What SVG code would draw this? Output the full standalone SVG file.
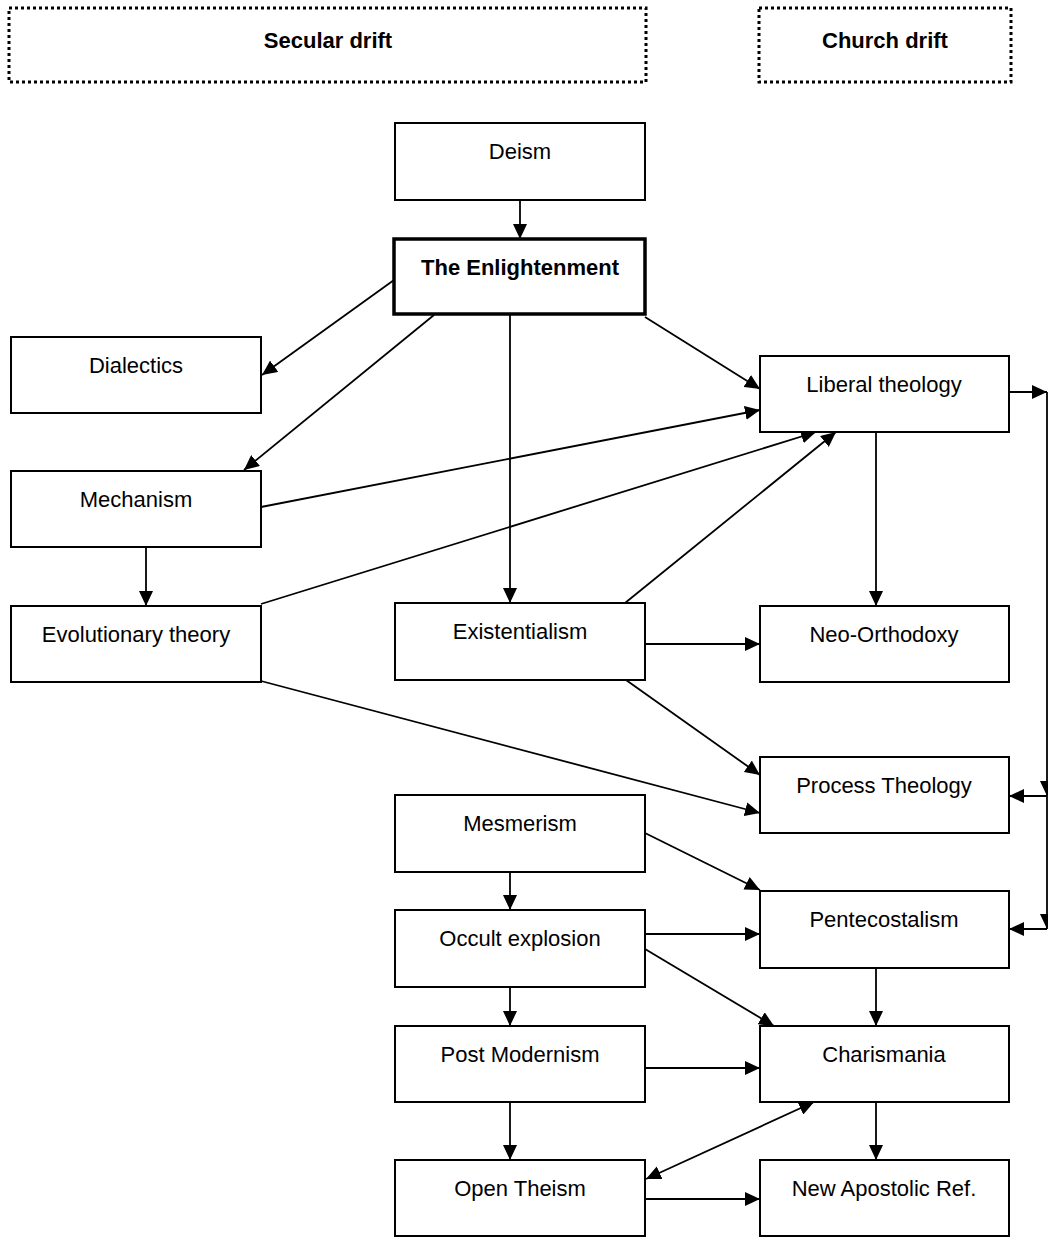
<svg xmlns="http://www.w3.org/2000/svg" width="1048" height="1237" viewBox="0 0 1048 1237">
<style>
  .box { fill: #fff; stroke: #000; stroke-width: 2; }
  .bold { stroke-width: 3.5; }
  .hdr { fill: none; stroke: #000; stroke-width: 3; stroke-dasharray: 3 3; }
  .t { font-family: "Liberation Sans", Arial, sans-serif; font-size: 22px; fill: #000; text-anchor: middle; }
  .tb { font-family: "Liberation Sans", Arial, sans-serif; font-size: 22px; font-weight: bold; fill: #000; text-anchor: middle; }
  .c { fill: none; stroke: #000; stroke-width: 1.8; marker-end: url(#ah); }
</style>
<defs>
  <marker id="ah" markerUnits="userSpaceOnUse" markerWidth="15" markerHeight="14" viewBox="0 0 15 14" refX="15" refY="7" orient="auto-start-reverse">
    <path d="M0,0 L15,7 L0,14 z" fill="#000"/>
  </marker>
</defs>
<rect width="1048" height="1237" fill="#fff"/>

<g id="secular-drift">
  <rect class="hdr" x="9" y="8" width="637" height="74"/>
  <text class="tb" x="328" y="48">Secular drift</text>
</g>
<g id="church-drift">
  <rect class="hdr" x="759" y="8" width="252" height="74"/>
  <text class="tb" x="885" y="48">Church drift</text>
</g>

<g id="connectors">
  <line class="c" x1="520" y1="200" x2="520" y2="239"/>
  <line class="c" x1="394" y1="280" x2="262" y2="375"/>
  <line class="c" x1="434" y1="315" x2="244" y2="470"/>
  <line class="c" x1="510" y1="315" x2="510" y2="603"/>
  <line class="c" x1="645" y1="317" x2="760" y2="389"/>
  <line class="c" x1="261" y1="507" x2="760" y2="410"/>
  <line class="c" x1="261" y1="604" x2="816" y2="432"/>
  <line class="c" x1="625" y1="603" x2="836" y2="432"/>
  <line class="c" x1="146" y1="547" x2="146" y2="606"/>
  <line class="c" x1="876" y1="432" x2="876" y2="606"/>
  <line class="c" x1="645" y1="644" x2="760" y2="644"/>
  <line class="c" x1="626" y1="680" x2="760" y2="775"/>
  <line class="c" x1="261" y1="681" x2="760" y2="813"/>
  <line class="c" x1="645" y1="833" x2="760" y2="890"/>
  <line class="c" x1="510" y1="872" x2="510" y2="910"/>
  <line class="c" x1="645" y1="934" x2="760" y2="934"/>
  <line class="c" x1="645" y1="949" x2="774" y2="1026"/>
  <line class="c" x1="876" y1="968" x2="876" y2="1026"/>
  <line class="c" x1="510" y1="987" x2="510" y2="1026"/>
  <line class="c" x1="645" y1="1068" x2="760" y2="1068"/>
  <line class="c" x1="510" y1="1102" x2="510" y2="1160"/>
  <line class="c" x1="814" y1="1102" x2="646" y2="1179" marker-start="url(#ah)"/>
  <line class="c" x1="876" y1="1102" x2="876" y2="1160"/>
  <line class="c" x1="645" y1="1199" x2="760" y2="1199"/>
  <line class="c" x1="1009" y1="392" x2="1047" y2="392"/>
  <line class="c" x1="1047" y1="392" x2="1047" y2="796"/>
  <line class="c" x1="1047" y1="796" x2="1009" y2="796"/>
  <line class="c" x1="1047" y1="796" x2="1047" y2="929"/>
  <line class="c" x1="1047" y1="929" x2="1009" y2="929"/>
</g>

<g id="deism">
  <rect class="box" x="395" y="123" width="250" height="77"/>
  <text class="t" x="520" y="159">Deism</text>
</g>
<g id="enlightenment">
  <rect class="box bold" x="394" y="239" width="251" height="75"/>
  <text class="tb" x="520" y="275">The Enlightenment</text>
</g>
<g id="dialectics">
  <rect class="box" x="11" y="337" width="250" height="76"/>
  <text class="t" x="136" y="373">Dialectics</text>
</g>
<g id="mechanism">
  <rect class="box" x="11" y="471" width="250" height="76"/>
  <text class="t" x="136" y="507">Mechanism</text>
</g>
<g id="evolutionary-theory">
  <rect class="box" x="11" y="606" width="250" height="76"/>
  <text class="t" x="136" y="642">Evolutionary theory</text>
</g>
<g id="liberal-theology">
  <rect class="box" x="760" y="356" width="249" height="76"/>
  <text class="t" x="884" y="392">Liberal theology</text>
</g>
<g id="existentialism">
  <rect class="box" x="395" y="603" width="250" height="77"/>
  <text class="t" x="520" y="639">Existentialism</text>
</g>
<g id="neo-orthodoxy">
  <rect class="box" x="760" y="606" width="249" height="76"/>
  <text class="t" x="884" y="642">Neo-Orthodoxy</text>
</g>
<g id="process-theology">
  <rect class="box" x="760" y="757" width="249" height="76"/>
  <text class="t" x="884" y="793">Process Theology</text>
</g>
<g id="mesmerism">
  <rect class="box" x="395" y="795" width="250" height="77"/>
  <text class="t" x="520" y="831">Mesmerism</text>
</g>
<g id="pentecostalism">
  <rect class="box" x="760" y="891" width="249" height="77"/>
  <text class="t" x="884" y="927">Pentecostalism</text>
</g>
<g id="occult-explosion">
  <rect class="box" x="395" y="910" width="250" height="77"/>
  <text class="t" x="520" y="946">Occult explosion</text>
</g>
<g id="post-modernism">
  <rect class="box" x="395" y="1026" width="250" height="76"/>
  <text class="t" x="520" y="1062">Post Modernism</text>
</g>
<g id="charismania">
  <rect class="box" x="760" y="1026" width="249" height="76"/>
  <text class="t" x="884" y="1062">Charismania</text>
</g>
<g id="open-theism">
  <rect class="box" x="395" y="1160" width="250" height="76"/>
  <text class="t" x="520" y="1196">Open Theism</text>
</g>
<g id="new-apostolic-ref">
  <rect class="box" x="760" y="1160" width="249" height="76"/>
  <text class="t" x="884" y="1196">New Apostolic Ref.</text>
</g>
</svg>
